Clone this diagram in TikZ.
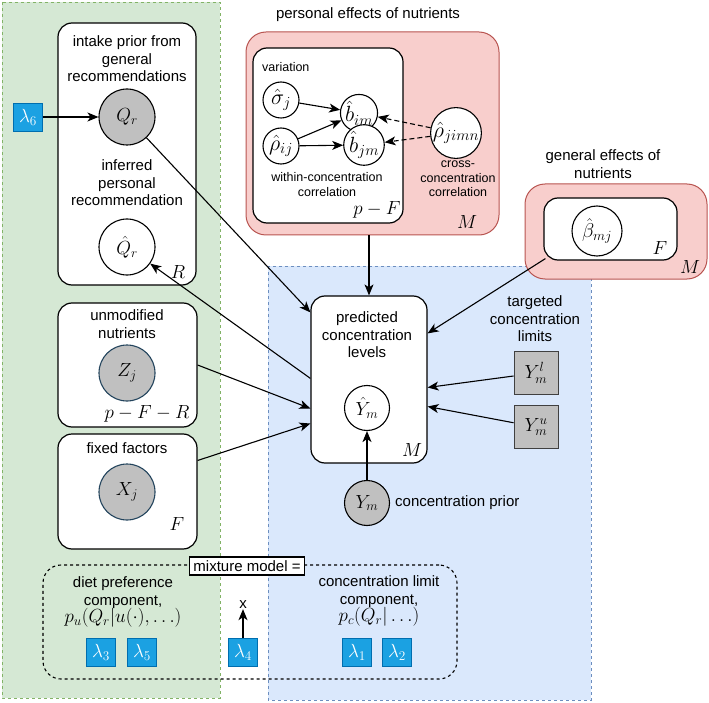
\RequirePackage{fix-cm}
\documentclass[tikz,border=0pt]{standalone}
\usepackage{amsmath}
\usepackage{fontspec}
\setmainfont{Liberation Sans}
\usetikzlibrary{arrows.meta}
\definecolor{greenfill}{HTML}{D5E8D4}
\definecolor{greenline}{HTML}{82B366}
\definecolor{bluefill}{HTML}{DAE8FC}
\definecolor{blueline}{HTML}{6C8EBF}
\definecolor{pinkfill}{HTML}{F8CECC}
\definecolor{pinkline}{HTML}{B85450}
\definecolor{lamfill}{HTML}{1BA1E2}
\definecolor{lamline}{HTML}{006EAF}
\definecolor{obsfill}{HTML}{C0C0C0}
\definecolor{obsline}{HTML}{23445D}
\newcommand{\mbig}{\fontsize{19}{22}\selectfont}
\newcommand{\mhuge}{\fontsize{22}{25}\selectfont}

\begin{document}
\begin{tikzpicture}[x=1pt, y=-1pt, font=\fontsize{15}{17.5}\selectfont,
    plate/.style={draw, line width=1.2pt, rounded corners=14pt, fill=white},
    pinkplate/.style={draw=pinkline, line width=1pt, rounded corners=20pt, fill=pinkfill},
    var/.style={font=\mbig},
    latent/.style={var, circle, draw, line width=1.1pt, fill=white, inner sep=0pt},
    coef/.style={latent, font=\mhuge},
    observed/.style={latent, fill=obsfill, draw=obsline},
    lam/.style={var, draw=lamline, fill=lamfill, text=white, minimum width=29pt, minimum height=28pt, inner sep=0pt},
    limit/.style={var, draw=black!75, line width=1pt, fill=obsfill, minimum width=44pt, minimum height=43pt, inner sep=0pt},
    edge/.style={-{Stealth[length=11pt, width=9pt, inset=3pt]}, line width=1.1pt},
    txt/.style={align=center, inner sep=0pt},
    small/.style={txt, font=\fontsize{12.5}{14.5}\selectfont}]
    \useasboundingbox (0,0) rectangle (709,703);

    % Background regions
    \draw[greenline, fill=greenfill, dash pattern=on 3pt off 3pt] (2,2) rectangle (220,698);
    \draw[blueline, fill=bluefill, dash pattern=on 3pt off 3pt] (268,266) rectangle (591,700);

    % Left plates
    \node[plate, minimum width=138pt, minimum height=262pt] (intake) at (127,154) {};
    \node[txt] at (127,59) {intake prior from\\general\\recommendations};
    \node[observed, draw=black, minimum size=56pt] (Qr) at (127,117) {$Q_r$};
    \node[txt] at (127,183) {inferred\\personal\\recommendation};
    \node[latent, minimum size=56pt] (Qhat) at (127,247) {$\hat{Q}_r$};
    \node[var] at (178,272) {$R$};
    \node[lam] (lam6) at (28,117) {$\lambda_6$};

    \node[plate, minimum width=139pt, minimum height=124pt] (Zbox) at (127.5,365) {};
    \node[txt] at (127,324) {unmodified\\nutrients};
    \node[observed, minimum size=56pt] (Zj) at (127,373) {$Z_j$};
    \node[var] at (147,414) {$p-F-R$};

    \node[plate, minimum width=139pt, minimum height=115pt] (Xbox) at (127.5,491.5) {};
    \node[txt] at (127,448) {fixed factors};
    \node[observed, minimum size=56pt] (Xj) at (127,492) {$X_j$};
    \node[var] at (177,524) {$F$};

    % Personal effects of nutrients
    \node[txt] at (368,15) {personal effects of nutrients};
    \node[pinkplate, minimum width=253pt, minimum height=203pt] (pers) at (372.5,133.5) {};
    \node[plate, minimum width=150pt, minimum height=175pt] (persin) at (328,135.5) {};
    \node[small, anchor=west] at (262,67) {variation};
    \node[coef, minimum size=36pt] (sigma) at (281,100) {$\hat{\sigma}_j$};
    \node[coef, minimum size=37pt] (bim) at (359,113) {$\hat{b}_{im}$};
    \node[coef, minimum size=36pt] (rhoij) at (281,146) {$\hat{\rho}_{ij}$};
    \node[coef, minimum size=37pt] (bjm) at (364,145) {$\hat{b}_{jm}$};
    \node[coef, minimum size=45pt] (rhox) at (456,133) {$\hat{\rho}_{jimn}$};
    \node[small] at (327,184.5) {within-concentration\\correlation};
    \node[small] at (458,179) {cross-\\concentration\\correlation};
    \node[var] at (377,210) {$p-F$};
    \node[var] at (467,222) {$M$};

    % General effects of nutrients
    \node[txt] at (603,164) {general effects of\\nutrients};
    \node[pinkplate, minimum width=182pt, minimum height=95pt] (gen) at (616,231.5) {};
    \node[plate, minimum width=133pt, minimum height=62pt] (genin) at (610.5,229) {};
    \node[latent, minimum size=50pt, font=\fontsize{20}{23}\selectfont] (beta) at (597,231) {$\hat{\beta}_{mj}$};
    \node[var] at (660,248) {$F$};
    \node[var] at (690,267) {$M$};

    % Predicted concentration levels
    \node[plate, minimum width=116pt, minimum height=167pt] (pred) at (369,379.5) {};
    \node[txt] at (367,335) {predicted\\concentration\\levels};
    \node[latent, minimum size=45pt] (Yhat) at (367,408) {$\hat{Y}_m$};
    \node[var] at (412,450) {$M$};
    \node[observed, draw=black, minimum size=45pt] (Ym) at (367,503) {$Y_m$};
    \node[txt, anchor=west] at (395,503) {concentration prior};
    \node[txt] at (535,319) {targeted\\concentration\\limits};
    \node[limit] (Yl) at (536,373) {$Y_m^l$};
    \node[limit] (Yu) at (536,427) {$Y_m^u$};

    % Mixture model
    \node[draw, dashed, line width=1.1pt, rounded corners=18pt, minimum width=414pt, minimum height=114pt] (mix) at (250,622) {};
    \node[draw, fill=white, line width=1.1pt, inner sep=3.5pt] (mixlab) at (247,566) {mixture model =};
    \node[txt] at (123,602) {diet preference\\component,\\{\mbig $p_u(Q_r|u(\cdot),\ldots)$}};
    \node[txt] at (379,601) {concentration limit\\component,\\{\mbig $p_c(Q_r|\ldots)$}};
    \foreach \n/\x in {3/101,5/142,4/243,1/357,2/397}
        \node[lam] (lam\n) at (\x,652) {$\lambda_\n$};
    \node[txt] (xout) at (243,605) {x};

    % Connectors
    \draw[edge] (lam6) -- (Qr);
    \draw[edge] (sigma) -- (bim);
    \draw[edge] (rhoij) -- (bim);
    \draw[edge] (rhoij) -- (bjm);
    \draw[edge, dash pattern=on 5pt off 3pt] (rhox) -- (bim);
    \draw[edge, dash pattern=on 5pt off 3pt] (rhox) -- (bjm);
    \draw[edge] (Qr) -- ([yshift=-17pt]pred.north west);
    \draw[edge] ([yshift=-83pt]pred.north west) -- (Qhat);
    \draw[edge] (Zbox.east) -- ([yshift=-29pt]pred.west);
    \draw[edge] ([yshift=31pt]Xbox.east) -- ([yshift=-44pt]pred.west);
    \draw[edge] (pers.south -| pred.north) -- (pred.north);
    \draw[edge] ([xshift=2pt,yshift=2pt]genin.south west) -- ([yshift=-38pt]pred.north east);
    \draw[edge] (Yl) -- ([yshift=-8pt]pred.east);
    \draw[edge] (Yu) -- ([yshift=-27pt]pred.east);
    \draw[edge] (Ym) -- (Yhat);
    \draw[edge] (lam4) -- (xout);
\end{tikzpicture}
\end{document}
